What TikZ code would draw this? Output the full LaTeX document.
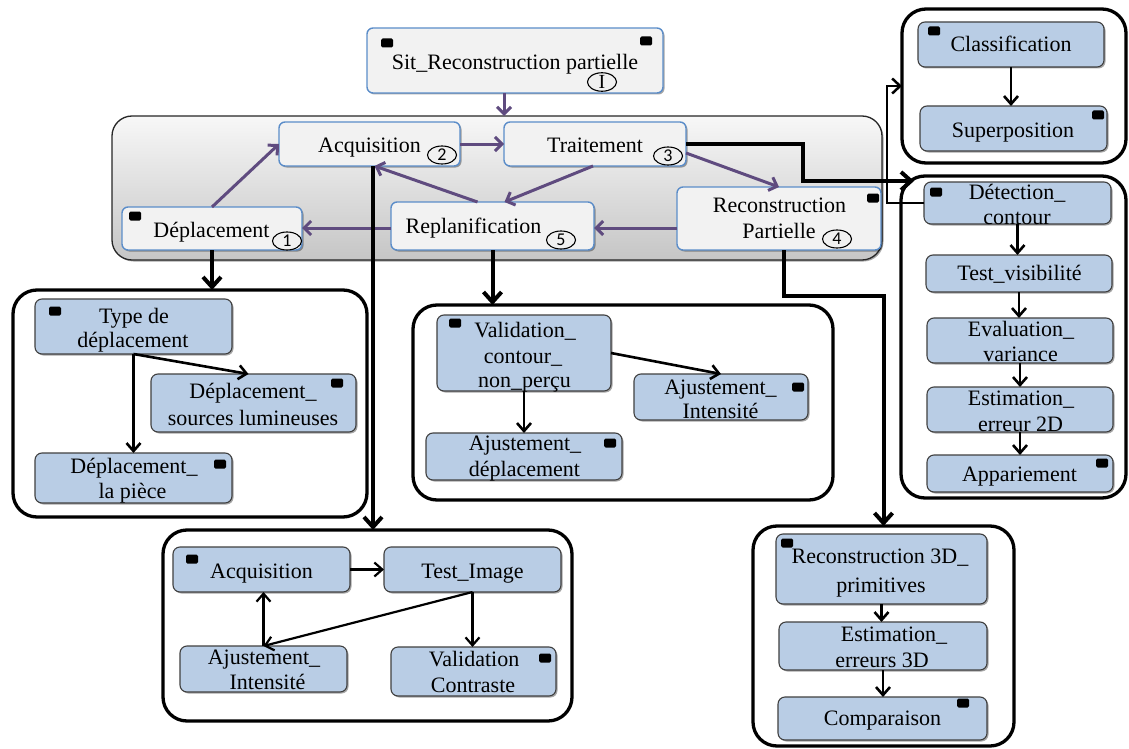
\documentclass[tikz,border=0pt]{standalone}
\usepackage{fontspec}
\setmainfont{Liberation Serif}
\newfontfamily\numfont{Carlito}
\usetikzlibrary{arrows.meta,shapes.geometric,shadows}
\definecolor{boxblue}{HTML}{B9CDE5}
\definecolor{edgeblue}{HTML}{5B8DC9}
\definecolor{purp}{HTML}{5F4B7F}
\definecolor{boxgray}{HTML}{F2F2F2}
\newcommand{\mkbox}[6]{\node[#1, minimum width={#5pt-#3pt}, minimum height={#6pt-#4pt}] (#2) at ({(#3+#5)/2},{(#4+#6)/2}) {};}
\newcommand{\txtline}[4]{\node[txt] (#1) at (#2,#3) {#4};}
\newcommand{\blksq}[3]{\node[sqr] (#1) at (#2,#3) {};}
\newcommand{\numel}[4]{\node[numell] (#1) at (#2,#3) {#4};}
\begin{document}
\begin{tikzpicture}[x=1pt,y=-1pt,
  shad/.style={drop shadow={shadow xshift=1.5pt,shadow yshift=-1.5pt,opacity=0.35,fill=black}},
  gbox/.style={draw=edgeblue,line width=1.4pt,fill=boxgray,rounded corners=6pt,inner sep=0pt,outer sep=0pt,shad},
  bbox/.style={draw=black!75,line width=1.1pt,fill=boxblue,rounded corners=7pt,inner sep=0pt,outer sep=0pt,shad},
  grp/.style={draw=black,line width=3.3pt,rounded corners=24pt,fill=white,inner sep=0pt,outer sep=0pt},
  ggrp/.style={draw=black!85,line width=1.3pt,rounded corners=20pt,top color=gray!6,bottom color=gray!45,inner sep=0pt,outer sep=0pt,shad},
  txt/.style={anchor=base,inner sep=0pt,font=\fontsize{22}{26}\selectfont},
  sqr/.style={fill=black,rounded corners=1.5pt,minimum width=12pt,minimum height=9pt,inner sep=0pt},
  numell/.style={ellipse,draw=black,line width=1.1pt,fill=gray!12,minimum width=29pt,minimum height=18pt,inner sep=0pt,font=\numfont\fontsize{18}{18}\selectfont},
  parrow/.style={draw=purp,line width=3pt,-{Straight Barb[length=7pt,width=14pt]}},
  tarrow/.style={draw=black,line width=4pt,-{Straight Barb[length=10pt,width=18pt]}},
  iarrow/.style={draw=black,line width=2.6pt,-{Straight Barb[length=8pt,width=14pt]}},
  tline/.style={draw=black,line width=2.5pt,-{Straight Barb[length=8pt,width=15pt]}}
]
\useasboundingbox (0,0) rectangle (1129,749);

% ---- main gray group
\mkbox{ggrp}{gg}{112}{116}{882}{260}
\mkbox{gbox}{sit}{367}{28}{663}{93}
\mkbox{gbox}{acq}{279}{122}{460}{166}
\mkbox{gbox}{trait}{504}{122}{686}{166}
\mkbox{gbox}{dep}{122}{207}{302}{250}
\mkbox{gbox}{replan}{391}{202}{594}{250}
\mkbox{gbox}{recon}{677}{187}{881}{250}

% ---- purple arrows
\draw[parrow] ([xshift=-11pt]sit.south) -- ([xshift=-11pt]sit.south |- gg.north);
\draw[parrow] (acq.east) -- (trait.west);
\draw[parrow] (dep.north) -- (acq.west);
\draw[parrow] ([xshift=-15pt]replan.north) -- ([xshift=5pt]acq.south);
\draw[parrow] ([xshift=-2pt]trait.south) -- ([xshift=12pt]replan.north);
\draw[parrow] ([yshift=-9pt]trait.east) -- (recon.north);
\draw[parrow] ([yshift=-9.5pt]recon.west) -- ([yshift=-9.5pt]recon.west -| replan.east);
\draw[parrow] ([yshift=-2pt]replan.west) -- ([yshift=-2pt]replan.west -| dep.east);

% ---- sub groups
\mkbox{grp}{g1}{902}{9}{1126}{163}
\mkbox{grp}{g2}{901}{176}{1126}{498}
\mkbox{grp}{g3}{753}{526}{1014}{746}
\mkbox{grp}{g4}{13}{290}{367}{517}
\mkbox{grp}{g5}{413}{305}{833}{500}
\mkbox{grp}{g6}{163}{530}{572}{721}

% ---- blue boxes
\mkbox{bbox}{clas}{918}{22}{1104}{67}
\mkbox{bbox}{sup}{920}{106}{1107}{151}
\mkbox{bbox}{dc}{924}{182}{1111}{224}
\mkbox{bbox}{tv}{926}{255}{1112}{292}
\mkbox{bbox}{ev}{927}{318}{1113}{363}
\mkbox{bbox}{e2}{927}{387}{1113}{432}
\mkbox{bbox}{app}{927}{455}{1113}{492}
\mkbox{bbox}{r3}{776}{534}{987}{604}
\mkbox{bbox}{e3}{779}{622}{987}{670}
\mkbox{bbox}{cmp}{778}{697}{987}{740}
\mkbox{bbox}{type}{35}{299}{232}{354}
\mkbox{bbox}{src}{151}{374}{356}{432}
\mkbox{bbox}{pie}{35}{453}{232}{503}
\mkbox{bbox}{val}{437}{315}{611}{391}
\mkbox{bbox}{ajI}{634}{374}{808}{420}
\mkbox{bbox}{ajd}{426}{433}{622}{480}
\mkbox{bbox}{acqb}{173}{547}{350}{592}
\mkbox{bbox}{tim}{384}{547}{561}{592}
\mkbox{bbox}{aji}{180}{646}{347}{692}
\mkbox{bbox}{vc}{391}{647}{556}{696}

% ---- black connectors between groups
\coordinate (tipA) at (914,181);
\draw[tarrow] (dep.south) -- (dep.south |- g4.north);
\draw[tarrow] ([xshift=3.5pt]acq.south) -- ([xshift=3.5pt]acq.south |- g6.north);
\draw[tarrow] (replan.south) -- (replan.south |- g5.north);
\draw[tarrow] ([xshift=5pt]recon.south) -- ++(0,46) -| (g3.north);
\draw[tarrow] (trait.east) -- ++(117,0) |- (tipA);
\draw[tline] (dc.west) -- ++(-37,0) |- (g1.west);

% ---- internal arrows
\draw[iarrow] (clas.south) -- (clas.south |- sup.north);
\draw[iarrow] (dc.south) -- (dc.south |- tv.north);
\draw[iarrow] (tv.south) -- (tv.south |- ev.north);
\draw[iarrow] (ev.south) -- (ev.south |- e2.north);
\draw[iarrow] (e2.south) -- (e2.south |- app.north);
\draw[iarrow] (r3.south) -- (r3.south |- e3.north);
\draw[iarrow] (e3.south) -- (e3.south |- cmp.north);
\draw[iarrow] (type.south) -- (type.south |- pie.north);
\draw[iarrow] (type.south) -- ([xshift=-5pt]src.north);
\draw[iarrow] (val.south) -- (val.south |- ajd.north);
\draw[iarrow] (val.east) -- (ajI.north);
\draw[iarrow,line width=2.2pt] (acqb.east) -- (tim.west);
\draw[iarrow,line width=2.2pt] (tim.south) -- (tim.south |- vc.north);
\draw[iarrow,line width=2.2pt] (tim.south) -- (aji.north);
\draw[iarrow,line width=2.2pt] (aji.north) -- (aji.north |- acqb.south);

% ---- black squares
\blksq{s1}{387}{43}
\blksq{s2}{646}{41}
\blksq{s3}{135}{216}
\blksq{s4}{873}{198}
\blksq{s5}{934}{31}
\blksq{s6}{1098}{115}
\blksq{s7}{936}{192}
\blksq{s8}{1102}{463}
\blksq{s9}{787}{543}
\blksq{s10}{963}{703}
\blksq{s11}{55}{311}
\blksq{s12}{337}{383}
\blksq{s13}{220}{464}
\blksq{s14}{455}{323}
\blksq{s15}{798}{387}
\blksq{s16}{610}{443}
\blksq{s17}{192}{559}
\blksq{s18}{545}{658}

% ---- numbered ellipses
\numel{nI}{602}{82}{\rmfamily\fontsize{20}{20}\selectfont I}
\numel{n1}{287}{241}{1}
\numel{n2}{442}{155}{2}
\numel{n3}{668}{156}{3}
\numel{n4}{837}{239}{4}
\numel{n5}{561}{240}{5}

% ---- texts
\txtline{t-sit}{515}{70}{Sit\_Reconstruction partielle}
\txtline{t-acq}{369.5}{152}{Acquisition}
\txtline{t-trait}{595}{152}{Traitement}
\txtline{t-dep}{211.5}{237}{Déplacement}
\txtline{t-replan}{473.5}{233}{Replanification}
\txtline{t-recon1}{779.5}{212}{Reconstruction}
\txtline{t-recon2}{779}{238}{Partielle}

\txtline{t-clas}{1011}{52}{Classification}
\txtline{t-sup}{1013}{137}{Superposition}
\txtline{t-dc1}{1017}{199}{Détection\_}
\txtline{t-dc2}{1017}{224}{contour}
\txtline{t-tv}{1019.5}{280}{Test\_visibilité}
\txtline{t-ev1}{1021}{336}{Evaluation\_}
\txtline{t-ev2}{1020.5}{361}{variance}
\txtline{t-e21}{1021}{405}{Estimation\_}
\txtline{t-e22}{1020.5}{431}{erreur 2D}
\txtline{t-app}{1019.5}{481}{Appariement}
\txtline{t-r31}{880}{563}{Reconstruction 3D\_}
\txtline{t-r32}{881}{592}{primitives}
\txtline{t-e31}{894}{641}{Estimation\_}
\txtline{t-e32}{882}{667}{erreurs 3D}
\txtline{t-cmp}{882.5}{725}{Comparaison}

\txtline{t-type1}{134}{323}{Type de}
\txtline{t-type2}{133}{347}{déplacement}
\txtline{t-src1}{253}{398}{Déplacement\_}
\txtline{t-src2}{253}{425}{sources lumineuses}
\txtline{t-pie1}{134}{473}{Déplacement\_}
\txtline{t-pie2}{132.5}{498}{la pièce}

\txtline{t-val1}{525}{337}{Validation\_}
\txtline{t-val2}{523}{363}{contour\_}
\txtline{t-val3}{524.5}{387}{non\_perçu}
\txtline{t-ajI1}{720.5}{394}{Ajustement\_}
\txtline{t-ajI2}{720.5}{418}{Intensité}
\txtline{t-ajd1}{525}{450}{Ajustement\_}
\txtline{t-ajd2}{524.5}{476}{déplacement}

\txtline{t-acqb}{261.5}{578}{Acquisition}
\txtline{t-tim}{472.5}{578}{Test\_Image}
\txtline{t-aji1}{264}{664}{Ajustement\_}
\txtline{t-aji2}{267.5}{689}{Intensité}
\txtline{t-vc1}{474}{666}{Validation}
\txtline{t-vc2}{473}{692}{Contraste}
\end{tikzpicture}
\end{document}
